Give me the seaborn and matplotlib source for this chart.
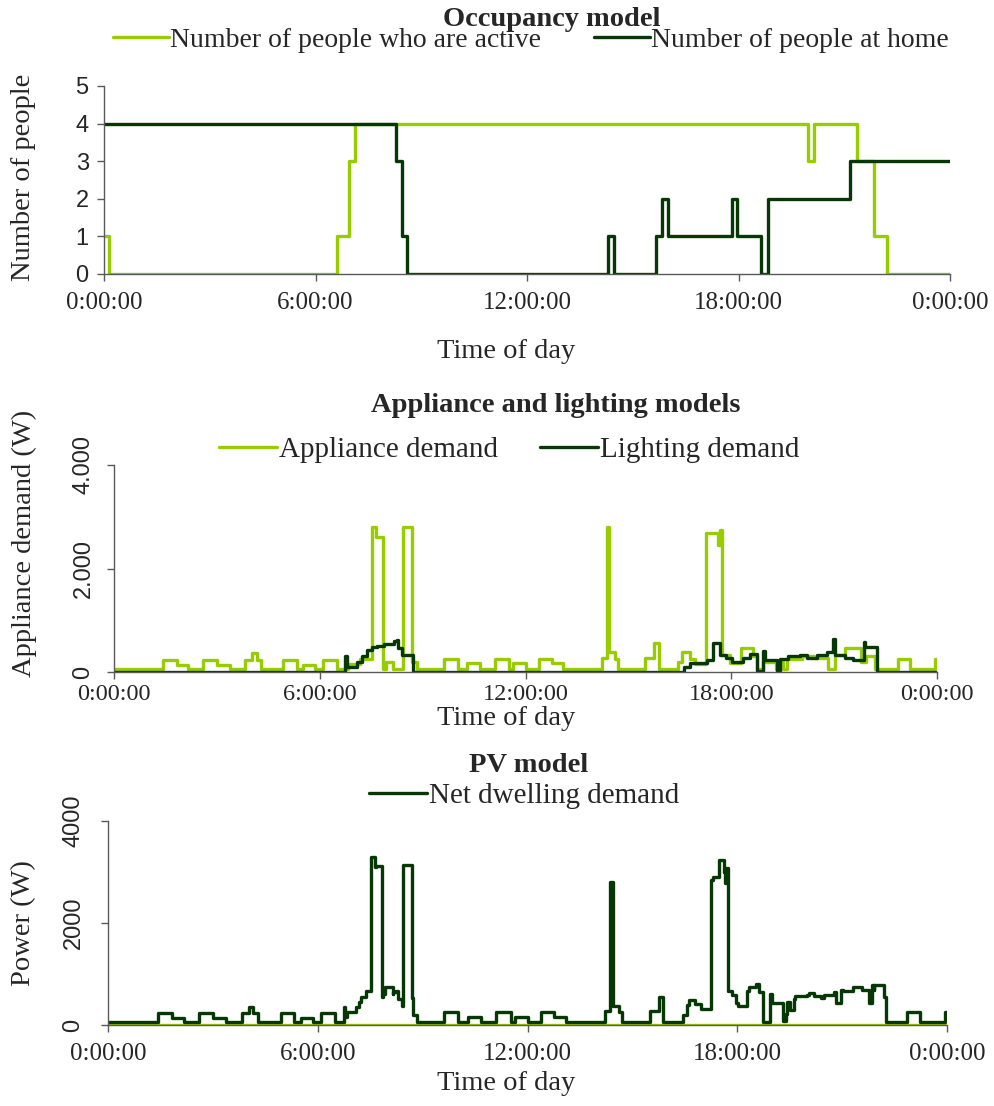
import numpy as np
import pandas as pd
import matplotlib
matplotlib.use("Agg")
import matplotlib.pyplot as plt
import seaborn as sns

sns.set_style("ticks")
plt.rcParams["font.family"] = ["Liberation Serif", "DejaVu Serif"]

LIGHT = "#99cc00"
DARK = "#063806"
AXIS = "#595959"

# step series: hour at which each step starts, and its value
active_t = [0.0, 0.15, 6.62, 6.95, 7.13, 19.97, 20.14, 21.35, 21.85, 22.20]
active_n = [1, 0, 1, 3, 4, 3, 4, 3, 1, 0]
home_t = [0.0, 8.27, 8.45, 8.60, 14.31, 14.47, 15.66, 15.84, 16.00, 17.81,
          17.97, 18.65, 18.83, 21.17]
home_n = [4, 3, 1, 0, 1, 0, 1, 2, 1, 2, 1, 0, 2, 3]

appl_t = [0.00, 1.44, 1.83, 2.17, 2.60, 2.99, 3.38, 3.82, 4.02, 4.16, 4.30,
          4.94, 5.33, 5.52, 5.86, 6.10, 6.49, 6.83, 7.17, 7.52, 7.63, 7.85,
          7.92, 8.15, 8.44, 8.70, 8.83, 9.62, 10.02, 10.29, 10.67, 11.11,
          11.52, 11.65, 12.02, 12.40, 12.76, 13.10, 14.22, 14.37, 14.44,
          14.61, 14.69, 15.49, 15.76, 15.88, 16.46, 16.56, 16.80, 16.95,
          17.25, 17.62, 17.68, 17.74, 17.96, 18.28, 18.62, 18.74, 18.93,
          19.30, 19.40, 19.52, 19.62, 20.05, 20.40, 20.82, 21.02, 21.32,
          21.78, 21.92, 22.20, 22.87, 23.22, 23.95]
appl_w = [50, 230, 135, 50, 230, 135, 50, 230, 360, 230, 50,
          230, 50, 135, 50, 240, 50, 150, 250, 2800, 2615, 50,
          200, 50, 2800, 200, 50, 250, 50, 165, 50, 250,
          50, 165, 50, 250, 165, 50, 265, 2800, 380,
          250, 50, 265, 555, 50, 200, 390, 250, 150,
          2680, 2450, 2750, 330, 165, 460, 300, 50, 200,
          60, 200, 50, 260, 300, 265, 50, 330, 460,
          200, 300, 50, 250, 50, 250]

light_t = [0.00, 6.74, 6.79, 7.10, 7.24, 7.39, 7.53, 7.68, 7.87, 8.16, 8.24,
           8.29, 8.40, 8.72, 16.62, 16.80, 17.30, 17.47, 17.66, 17.85, 18.03,
           18.35, 18.54, 18.74, 18.93, 18.98, 19.32, 19.42, 19.66, 20.00,
           20.20, 20.49, 20.78, 20.98, 21.02, 21.32, 21.56, 21.86, 21.91,
           22.25]
light_w = [0, 300, 100, 200, 300, 425, 490, 500, 550, 590, 620,
           460, 330, 0, 100, 170, 230, 555, 330, 265, 200,
           277, 340, 10, 405, 230, 10, 250, 300, 330,
           265, 330, 390, 640, 330, 280, 230, 585, 490,
           0]

pv_t = [0.0]
pv_w = [0]

hour_ticks = [0, 6, 12, 18, 24]
hour_labels = ["0:00:00", "6:00:00", "12:00:00", "18:00:00", "0:00:00"]


def steps(t, v):
    # close the last step at midnight
    return pd.DataFrame({"hour": list(t) + [24.0], "value": list(v) + [v[-1]]})


def value_at(t, v, x):
    idx = np.searchsorted(t, x, side="right") - 1
    return np.asarray(v, dtype=float)[idx]


# net dwelling demand = appliances + lighting - PV
net_t = sorted(set(appl_t) | set(light_t))
net_w = (value_at(appl_t, appl_w, net_t) + value_at(light_t, light_w, net_t)
         - value_at(pv_t, pv_w, net_t))

W, H = 994, 1106
fig = plt.figure(figsize=(W / 100, H / 100), dpi=100)


def box(left, right, top, bottom):
    return [left / W, 1 - bottom / H, (right - left) / W, (bottom - top) / H]


ax1 = fig.add_axes(box(104, 950, 86, 274))
ax2 = fig.add_axes(box(114, 937, 465, 672))
ax3 = fig.add_axes(box(108, 947, 821, 1025))

line_kw = dict(drawstyle="steps-post", lw=2.4, legend=False)

sns.lineplot(data=steps(active_t, active_n), x="hour", y="value", color=LIGHT, ax=ax1, **line_kw)
sns.lineplot(data=steps(home_t, home_n), x="hour", y="value", color=DARK, ax=ax1, **line_kw)

sns.lineplot(data=steps(appl_t, appl_w), x="hour", y="value", color=LIGHT, ax=ax2, **line_kw)
sns.lineplot(data=steps(light_t, light_w), x="hour", y="value", color=DARK, ax=ax2, **line_kw)

sns.lineplot(data=steps(pv_t, pv_w), x="hour", y="value", color=LIGHT, ax=ax3, **line_kw)
sns.lineplot(data=steps(net_t, net_w), x="hour", y="value", color=DARK, ax=ax3, **line_kw)

ax1.set_ylim(0, 5)
ax1.set_yticks(range(6))
ax2.set_ylim(0, 4000)
ax2.set_yticks([0, 2000, 4000])
ax2.set_yticklabels(["0", "2.000", "4.000"], rotation=90, va="center")
ax3.set_ylim(0, 4000)
ax3.set_yticks([0, 2000, 4000])
ax3.set_yticklabels(["0", "2000", "4000"], rotation=90, va="center")

for ax in (ax1, ax2, ax3):
    ax.set_xlim(0, 24)
    ax.set_xticks(hour_ticks)
    ax.set_xticklabels(hour_labels)
    ax.set_xlabel("")
    ax.set_ylabel("")
    sns.despine(ax=ax)
    for side in ("left", "bottom"):
        ax.spines[side].set_color(AXIS)
        ax.spines[side].set_linewidth(1.0)
    ax.tick_params(direction="out", length=5, width=1, color=AXIS)
    ax.tick_params(axis="x", labelsize=18, pad=8)
    ax.tick_params(axis="y", labelsize=17)
    for lab in ax.get_yticklabels():
        lab.set_fontfamily("Liberation Sans")
ax1.tick_params(axis="y", pad=6)
ax2.tick_params(axis="x", labelsize=17.5, pad=4)
ax2.tick_params(axis="y", pad=9)
ax3.tick_params(axis="y", pad=12)

# titles, axis labels
title_kw = dict(ha="center", va="center", fontsize=20.5, fontweight="bold")
fig.text(552 / W, 1 - 19 / H, "Occupancy model", **title_kw)
fig.text(556 / W, 1 - 405 / H, "Appliance and lighting models", **title_kw)
fig.text(529 / W, 1 - 766 / H, "PV model", **title_kw)

xlab_kw = dict(ha="center", fontsize=20.5)
fig.text(506 / W, 1 - 352 / H, "Time of day", va="center", **xlab_kw)
fig.text(506 / W, 1 - 706 / H, "Time of day", va="top", **xlab_kw)
fig.text(506 / W, 1 - 1083 / H, "Time of day", va="center", **xlab_kw)

ylab_kw = dict(rotation=90, ha="center", va="center", fontsize=20.5)
fig.text(24 / W, 1 - 177 / H, "Number of people", **ylab_kw)
fig.text(24 / W, 1 - 543 / H, "Appliance demand (W)", **ylab_kw)
fig.text(24 / W, 1 - 923 / H, "Power (W)", **ylab_kw)

# legends
leg_kw = dict(frameon=False, handlelength=2.0, handletextpad=0.05,
              borderpad=0, borderaxespad=0)
h1 = [plt.Line2D([], [], color=c, lw=2.4) for c in (LIGHT, DARK)]
fig.legend(h1, ["Number of people who are active", "Number of people at home"],
           loc="center", bbox_to_anchor=(531 / W, 1 - 40 / H), ncol=2,
           fontsize=20, columnspacing=1.9, **leg_kw)
fig.legend(h1, ["Appliance demand", "Lighting demand"],
           loc="center", bbox_to_anchor=(509 / W, 1 - 450 / H), ncol=2,
           fontsize=21, columnspacing=1.45, **leg_kw)
fig.legend(h1[1:], ["Net dwelling demand"],
           loc="center", bbox_to_anchor=(524 / W, 1 - 796 / H), ncol=1,
           fontsize=21, **leg_kw)

fig.savefig("out.png", dpi=100)
